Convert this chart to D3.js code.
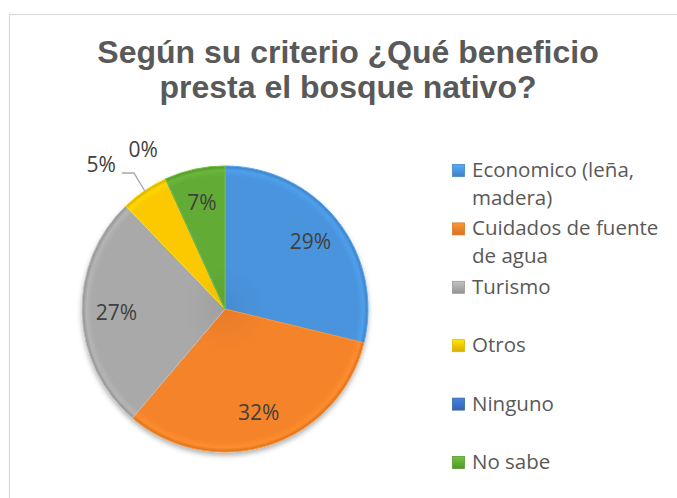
<!DOCTYPE html>
<html>
<head>
<meta charset="utf-8">
<script src="https://cdn.jsdelivr.net/npm/d3@7"></script>
<style>
  html, body { margin: 0; padding: 0; background: #fff; }
  svg { display: block; }
</style>
</head>
<body>
<svg id="chart"></svg>
<script>
const categories = ['Economico (leña, madera)', 'Cuidados de fuente de agua', 'Turismo', 'Otros', 'Ninguno', 'No sabe']
const legendLines = [['Economico (leña,', 'madera)'], ['Cuidados de fuente', 'de agua'], ['Turismo'], ['Otros'], ['Ninguno'], ['No sabe']]
const values = [28.8, 32.4, 26.6, 5.4, 0, 6.8]
const colors = ['#4a94dd', '#f5832a', '#a9a9a9', '#fcc800', '#3c72c6', '#62ab36']
const titleLines = ['Según su criterio ¿Qué beneficio', 'presta el bosque nativo?']

const width = 677
const height = 498
const cx = 225
const cy = 309
const radius = 143

const svg = d3.select('#chart')
  .attr('width', width)
  .attr('height', height)

const defs = svg.append('defs')

const shadow = defs.append('filter')
  .attr('id', 'shadow')
  .attr('x', '-20%').attr('y', '-20%')
  .attr('width', '140%').attr('height', '140%')
shadow.append('feDropShadow')
  .attr('dx', 0).attr('dy', 3)
  .attr('stdDeviation', 2.5)
  .attr('flood-color', '#000')
  .attr('flood-opacity', 0.3)

colors.forEach((c, i) => {
  // gradient lives in the pie group's space, so it is centred on 0,0
  const grad = defs.append('radialGradient')
    .attr('id', 'slice' + i)
    .attr('gradientUnits', 'userSpaceOnUse')
    .attr('cx', 0).attr('cy', 0).attr('r', radius)
  grad.append('stop').attr('offset', '0%').attr('stop-color', d3.color(c).darker(0.15))
  grad.append('stop').attr('offset', '30%').attr('stop-color', c)
  grad.append('stop').attr('offset', '93%').attr('stop-color', c)
  grad.append('stop').attr('offset', '97%').attr('stop-color', d3.color(c).brighter(0.2))
  grad.append('stop').attr('offset', '100%').attr('stop-color', d3.color(c).darker(0.45))

  const lg = defs.append('linearGradient')
    .attr('id', 'key' + i)
    .attr('x1', 0).attr('y1', 0).attr('x2', 0).attr('y2', 1)
  lg.append('stop').attr('offset', '0%').attr('stop-color', d3.color(c).brighter(0.4))
  lg.append('stop').attr('offset', '100%').attr('stop-color', d3.color(c).darker(0.4))
})

// chart frame
svg.append('rect')
  .attr('x', 9.5)
  .attr('y', 14.5)
  .attr('width', 720)
  .attr('height', 520)
  .attr('fill', '#fff')
  .attr('stroke', '#d9d9d9')
  .attr('stroke-width', 1.2)

svg.append('g')
  .selectAll('text')
  .data(titleLines)
  .enter()
  .append('text')
  .attr('x', 348)
  .attr('y', (d, i) => 63 + i * 35)
  .attr('text-anchor', 'middle')
  .attr('font-family', 'Liberation Sans, Arial, sans-serif')
  .attr('font-weight', 'bold')
  .attr('font-size', '32px')
  .attr('fill', '#595959')
  .text(d => d)

const total = d3.sum(values)
const pct = d3.format('.0%')

const pie = d3.pie()
  .value(d => d)
  .sort(null)

const arcs = pie(values)

const arc = d3.arc()
  .innerRadius(0)
  .outerRadius(radius)

const labelArc = d3.arc()
  .innerRadius(radius * 0.76)
  .outerRadius(radius * 0.76)

const g = svg.append('g')
  .attr('transform', `translate(${cx},${cy})`)

g.append('g')
  .attr('filter', 'url(#shadow)')
  .selectAll('path')
  .data(arcs)
  .enter()
  .append('path')
  .attr('d', arc)
  .attr('fill', (d, i) => `url(#slice${i})`)
  .attr('stroke', (d, i) => d3.color(colors[i]).brighter(0.35))
  .attr('stroke-width', 1)
  .attr('stroke-linejoin', 'round')

const textStyle = sel => sel
  .attr('font-family', 'Open Sans, Noto Sans, sans-serif')
  .attr('font-size', '21px')
  .attr('fill', '#404040')

// inside labels for larger slices
const inside = arcs.filter(d => d.value / total >= 0.06)
g.append('g')
  .selectAll('text')
  .data(inside)
  .enter()
  .append('text')
  .attr('transform', d => `translate(${labelArc.centroid(d)})`)
  .attr('text-anchor', 'middle')
  .attr('dy', '0.36em')
  .call(textStyle)
  .text(d => pct(d.value / total))

// small slice with leader line (Otros)
const small = arcs[3]
const midA = (small.startAngle + small.endAngle) / 2
const rimPt = [radius * Math.sin(midA), -radius * Math.cos(midA)]
const elbow = [(radius + 19) * Math.sin(midA), -(radius + 19) * Math.cos(midA) - 2]
const tail = [elbow[0] - 12, elbow[1]]

g.append('path')
  .attr('d', d3.line()([rimPt, elbow, tail]))
  .attr('fill', 'none')
  .attr('stroke', '#a6a6a6')
  .attr('stroke-width', 1.3)

g.append('text')
  .attr('x', tail[0] - 6)
  .attr('y', tail[1] - 1)
  .attr('text-anchor', 'end')
  .call(textStyle)
  .text(pct(small.value / total))

// zero slice label (Ninguno)
const zero = arcs[4]
const zeroA = zero.startAngle
g.append('text')
  .attr('x', 176 * Math.sin(zeroA) - 9)
  .attr('y', -176 * Math.cos(zeroA) + 1)
  .attr('text-anchor', 'middle')
  .attr('dy', '0.36em')
  .call(textStyle)
  .text(pct(zero.value / total))

// legend
const legendY = d3.scaleLinear()
  .domain([0, categories.length - 1])
  .range([177, 469])

const legend = svg.append('g')
  .selectAll('g')
  .data(categories)
  .enter()
  .append('g')
  .attr('transform', (d, i) => `translate(452,${legendY(i)})`)

legend.append('rect')
  .attr('x', 0.5)
  .attr('y', -12.5)
  .attr('width', 12)
  .attr('height', 12)
  .attr('fill', (d, i) => `url(#key${i})`)
  .attr('stroke', (d, i) => d3.color(colors[i]).darker(0.3))
  .attr('stroke-width', 0.8)

legend.append('text')
  .attr('x', 20)
  .attr('y', 0)
  .attr('font-family', 'Open Sans, Noto Sans, sans-serif')
  .attr('font-size', '20.5px')
  .attr('fill', '#595959')
  .selectAll('tspan')
  .data((d, i) => legendLines[i])
  .enter()
  .append('tspan')
  .attr('x', 20)
  .attr('dy', (d, j) => j === 0 ? 0 : 28)
  .text(d => d)
</script>
</body>
</html>
